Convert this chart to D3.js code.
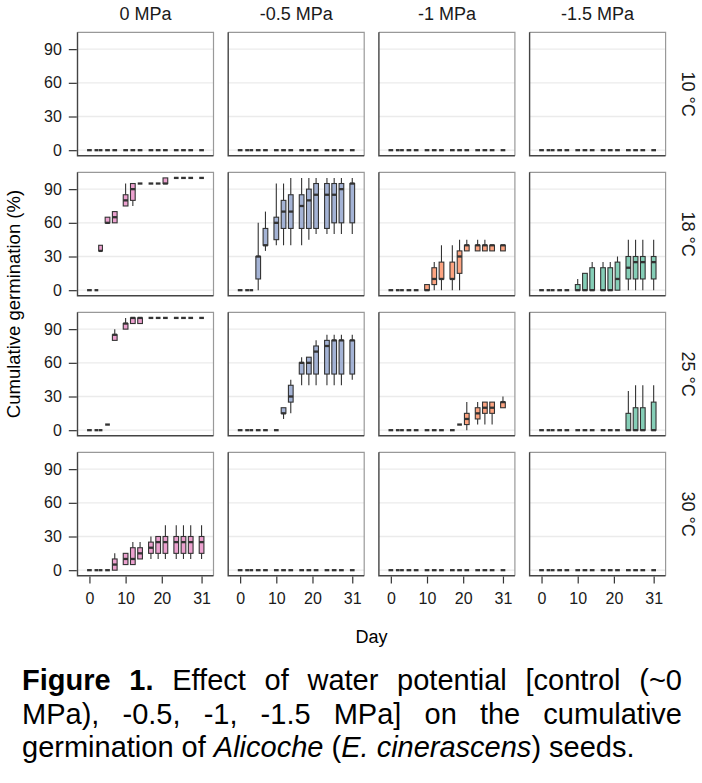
<!DOCTYPE html>
<html lang="en">
<head>
<meta charset="UTF-8">
<title>Cumulative germination</title>
<script src="https://cdn.jsdelivr.net/npm/d3@7/dist/d3.min.js"></script>
<style>
  body { margin: 0; background: #fff; font-family: "Liberation Sans", Arial, sans-serif; }
  #caption { position: absolute; left: 22px; top: 664px; width: 660px; font-size: 29px; line-height: 33.5px; color: #000; }
  #caption div { text-align: justify; text-align-last: justify; white-space: nowrap; }
  #caption div.last { text-align: left; text-align-last: left; }
</style>
</head>
<body>
<script>

// sampling days and facet labels
var days = [0, 2, 3, 5, 7, 10, 12, 14, 17, 19, 21, 24, 26, 28, 31]
var potentials = ["0 MPa", "-0.5 MPa", "-1 MPa", "-1.5 MPa"]
var temperatures = ["10 °C", "18 °C", "25 °C", "30 °C"]
var x_ticks = [0, 10, 20, 31]
var y_ticks = [0, 30, 60, 90]
var colors = ["#E78AC3", "#8DA0CB", "#FC8D62", "#66C2A5"]

// one entry per day: a single number (all seeds alike) or [low, q1, median, q3, high]
var t10_p0   = [0, 0, 0, 0, 0, 0, 0, 0, 0, 0, 0, 0, 0, 0, 0]
var t10_p05  = [0, 0, 0, 0, 0, 0, 0, 0, 0, 0, 0, 0, 0, 0, 0]
var t10_p1   = [0, 0, 0, 0, 0, 0, 0, 0, 0, 0, 0, 0, 0, 0, 0]
var t10_p15  = [0, 0, 0, 0, 0, 0, 0, 0, 0, 0, 0, 0, 0, 0, 0]

var t18_p0   = [0, 0, [35, 35, 35, 40, 40], [60, 60, 60, 65, 65], [60, 60, 65, 70, 70],
                [75, 75, 80, 85, 95], [75, 80, 90, 95, 95], 95, 95, 95,
                [95, 95, 95, 100, 100], 100, 100, 100, 100]
var t18_p05  = [0, 0, 0, [0, 10, 30, 30, 60], [35, 40, 40, 55, 70],
                [40, 45, 60, 65, 95], [40, 55, 70, 80, 95], [40, 55, 70, 85, 100],
                [40, 55, 75, 85, 100], [45, 55, 80, 90, 100], [50, 55, 85, 95, 100],
                [50, 55, 85, 95, 100], [50, 60, 85, 95, 100], [50, 60, 90, 95, 100],
                [50, 60, 95, 95, 100]]
var t18_p1   = [0, 0, 0, 0, 0, [0, 0, 0, 5, 5], [0, 5, 10, 20, 25], [0, 10, 10, 25, 40],
                [0, 10, 10, 25, 40], [0, 15, 30, 35, 45], [35, 35, 40, 40, 45],
                [35, 35, 40, 40, 45], [35, 35, 40, 40, 45], [35, 35, 40, 40, 40],
                [35, 35, 40, 40, 40]]
var t18_p15  = [0, 0, 0, 0, 0, [0, 0, 0, 5, 10], [0, 0, 0, 15, 15], [0, 0, 0, 20, 25],
                [0, 0, 0, 20, 25], [0, 0, 0, 20, 25], [0, 0, 10, 25, 30],
                [0, 10, 20, 30, 45], [0, 10, 25, 30, 45], [0, 10, 25, 30, 45],
                [0, 10, 25, 30, 45]]

var t25_p0   = [0, 0, 0, 5, [80, 80, 85, 85, 90], [90, 90, 95, 95, 100],
                [95, 95, 100, 100, 100], [95, 95, 100, 100, 100],
                100, 100, 100, 100, 100, 100, 100]
var t25_p05  = [0, 0, 0, 0, 0, 0, [10, 15, 15, 20, 20], [15, 25, 30, 40, 45],
                [40, 50, 60, 60, 65], [40, 50, 60, 65, 65], [40, 50, 70, 75, 80],
                [40, 50, 75, 80, 85], [40, 50, 80, 80, 85], [40, 50, 80, 80, 85],
                [45, 50, 80, 80, 85]]
var t25_p1   = [0, 0, 0, 0, 0, 0, 0, 0, 0, 5, [0, 5, 10, 15, 25], [5, 10, 15, 20, 25],
                [5, 15, 20, 25, 25], [5, 15, 20, 25, 25], [20, 20, 25, 25, 30]]
var t25_p15  = [0, 0, 0, 0, 0, 0, 0, 0, 0, 0, 0, [0, 0, 0, 15, 35], [0, 0, 0, 20, 40],
                [0, 0, 0, 20, 40], [0, 0, 0, 25, 40]]

var t30_p0   = [0, 0, 0, 0, [0, 0, 5, 10, 15], [5, 5, 10, 15, 15], [5, 5, 10, 20, 25],
                [10, 10, 15, 20, 25], [10, 15, 20, 25, 30], [10, 15, 25, 30, 30],
                [10, 15, 25, 30, 40], [10, 15, 25, 30, 40], [10, 15, 25, 30, 40],
                [10, 15, 25, 30, 40], [10, 15, 25, 30, 40]]
var t30_p05  = [0, 0, 0, 0, 0, 0, 0, 0, 0, 0, 0, 0, 0, 0, 0]
var t30_p1   = [0, 0, 0, 0, 0, 0, 0, 0, 0, 0, 0, 0, 0, 0, 0]
var t30_p15  = [0, 0, 0, 0, 0, 0, 0, 0, 0, 0, 0, 0, 0, 0, 0]

var grid = [
  [t10_p0, t10_p05, t10_p1, t10_p15],
  [t18_p0, t18_p05, t18_p1, t18_p15],
  [t25_p0, t25_p05, t25_p1, t25_p15],
  [t30_p0, t30_p05, t30_p1, t30_p15]
]

var width = 702,
    height = 650

var panel_w = 136,
    panel_h = 123.5,
    panel_left = 77.5,
    panel_top = 32.3,
    col_step = 150.7,
    row_step = 140

var box_w = 1.3   // in days

var x = d3.scaleLinear().domain([-3.3, 34.3]).range([0, panel_w])
var y = d3.scaleLinear().domain([-5, 105]).range([panel_h, 0])

// boxes that overlap on the day axis are put side by side (like dodge2)
var slots = []
var i = 0
while (i < days.length) {
  var j = i
  while (j + 1 < days.length && days[j + 1] - days[j] < box_w) j++
  var n = j - i + 1
  var lo = days[i] - box_w / 2, hi = days[j] + box_w / 2
  var sw = (hi - lo) / n
  for (var k = 0; k < n; k++) {
    slots.push({ center: lo + sw * (k + 0.5), width: n > 1 ? sw * 0.9 : box_w })
  }
  i = j + 1
}

var svg = d3.select("body").append("svg")
    .attr("width", width)
    .attr("height", height)
    .style("display", "block")
    .style("font-family", "'Liberation Sans', Arial, sans-serif")

grid.forEach(function(row, r) {
  row.forEach(function(series, c) {
    var g = svg.append("g")
        .attr("transform", "translate(" + (panel_left + c * col_step) + "," + (panel_top + r * row_step) + ")")

    g.append("rect")
        .attr("width", panel_w).attr("height", panel_h)
        .attr("fill", "#fff")

    g.selectAll(".grid").data(y_ticks).enter()
      .append("line")
        .attr("x1", 0).attr("x2", panel_w)
        .attr("y1", function(d) { return y(d) }).attr("y2", function(d) { return y(d) })
        .attr("stroke", "#ebebeb").attr("stroke-width", 1.3)

    var stats = series.map(function(v, idx) {
      var s = Array.isArray(v) ? v : [v, v, v, v, v]
      return { s: s, slot: slots[idx] }
    })

    var boxes = g.selectAll(".box").data(stats).enter().append("g")

    boxes.append("line")
        .attr("x1", function(d) { return x(d.slot.center) })
        .attr("x2", function(d) { return x(d.slot.center) })
        .attr("y1", function(d) { return y(d.s[0]) })
        .attr("y2", function(d) { return y(d.s[1]) })
        .attr("stroke", "#333").attr("stroke-width", 1.1)
    boxes.append("line")
        .attr("x1", function(d) { return x(d.slot.center) })
        .attr("x2", function(d) { return x(d.slot.center) })
        .attr("y1", function(d) { return y(d.s[3]) })
        .attr("y2", function(d) { return y(d.s[4]) })
        .attr("stroke", "#333").attr("stroke-width", 1.1)
    boxes.append("rect")
        .attr("x", function(d) { return x(d.slot.center - d.slot.width / 2) })
        .attr("width", function(d) { return x(d.slot.width) - x(0) })
        .attr("y", function(d) { return y(d.s[3]) })
        .attr("height", function(d) { return y(d.s[1]) - y(d.s[3]) })
        .attr("fill", colors[c]).attr("fill-opacity", 0.8)
        .attr("stroke", "#333").attr("stroke-width", 1.1)
    boxes.append("line")
        .attr("x1", function(d) { return x(d.slot.center - d.slot.width / 2) })
        .attr("x2", function(d) { return x(d.slot.center + d.slot.width / 2) })
        .attr("y1", function(d) { return y(d.s[2]) })
        .attr("y2", function(d) { return y(d.s[2]) })
        .attr("stroke", "#333").attr("stroke-width", 2.3)

    // frame: light top/right, dark left/bottom
    g.append("path")
        .attr("d", "M0,0H" + panel_w + "V" + panel_h)
        .attr("fill", "none").attr("stroke", "#999").attr("stroke-width", 1.2)
    g.append("path")
        .attr("d", "M0,0V" + panel_h + "H" + panel_w)
        .attr("fill", "none").attr("stroke", "#444").attr("stroke-width", 1.4)

    if (c === 0) {
      var ya = g.append("g").attr("transform", "translate(-0.7,0)")
          .call(d3.axisLeft(y).tickValues(y_ticks).tickSize(8).tickPadding(7))
      ya.select(".domain").remove()
      ya.selectAll("line").attr("stroke", "#333").attr("stroke-width", 1.2)
      ya.selectAll("text").attr("fill", "#1a1a1a").style("font-size", "16px")
          .style("font-family", "'Liberation Sans', Arial, sans-serif")
    }
    if (r === grid.length - 1) {
      var xa = g.append("g").attr("transform", "translate(0," + (panel_h + 0.7) + ")")
          .call(d3.axisBottom(x).tickValues(x_ticks).tickSize(7).tickPadding(9))
      xa.select(".domain").remove()
      xa.selectAll("line").attr("stroke", "#333").attr("stroke-width", 1.2)
      xa.selectAll("text").attr("fill", "#1a1a1a").style("font-size", "16px")
          .style("font-family", "'Liberation Sans', Arial, sans-serif")
    }
    if (r === 0) {
      g.append("text")
          .attr("x", panel_w / 2).attr("y", -12)
          .attr("text-anchor", "middle")
          .style("font-size", "18px").attr("fill", "#1a1a1a")
          .text(potentials[c])
    }
    if (c === row.length - 1) {
      g.append("text")
          .attr("transform", "translate(" + (panel_w + 16) + "," + (panel_h / 2) + ") rotate(90)")
          .attr("text-anchor", "middle")
          .style("font-size", "18px").attr("fill", "#1a1a1a")
          .text(temperatures[r])
    }
  })
})

svg.append("text")
    .attr("transform", "translate(20," + (panel_top + (3 * row_step + panel_h) / 2) + ") rotate(-90)")
    .attr("text-anchor", "middle")
    .style("font-size", "18.5px").attr("fill", "#000")
    .text("Cumulative germination (%)")

svg.append("text")
    .attr("x", panel_left + (3 * col_step + panel_w) / 2).attr("y", 643)
    .attr("text-anchor", "middle")
    .style("font-size", "18px").attr("fill", "#000")
    .text("Day")

</script>
<div id="caption">
  <div><b>Figure 1.</b> Effect of water potential [control (~0</div>
  <div>MPa), -0.5, -1, -1.5 MPa] on the cumulative</div>
  <div class="last">germination of <i>Alicoche</i> (<i>E. cinerascens</i>) seeds.</div>
</div>
</body>
</html>
